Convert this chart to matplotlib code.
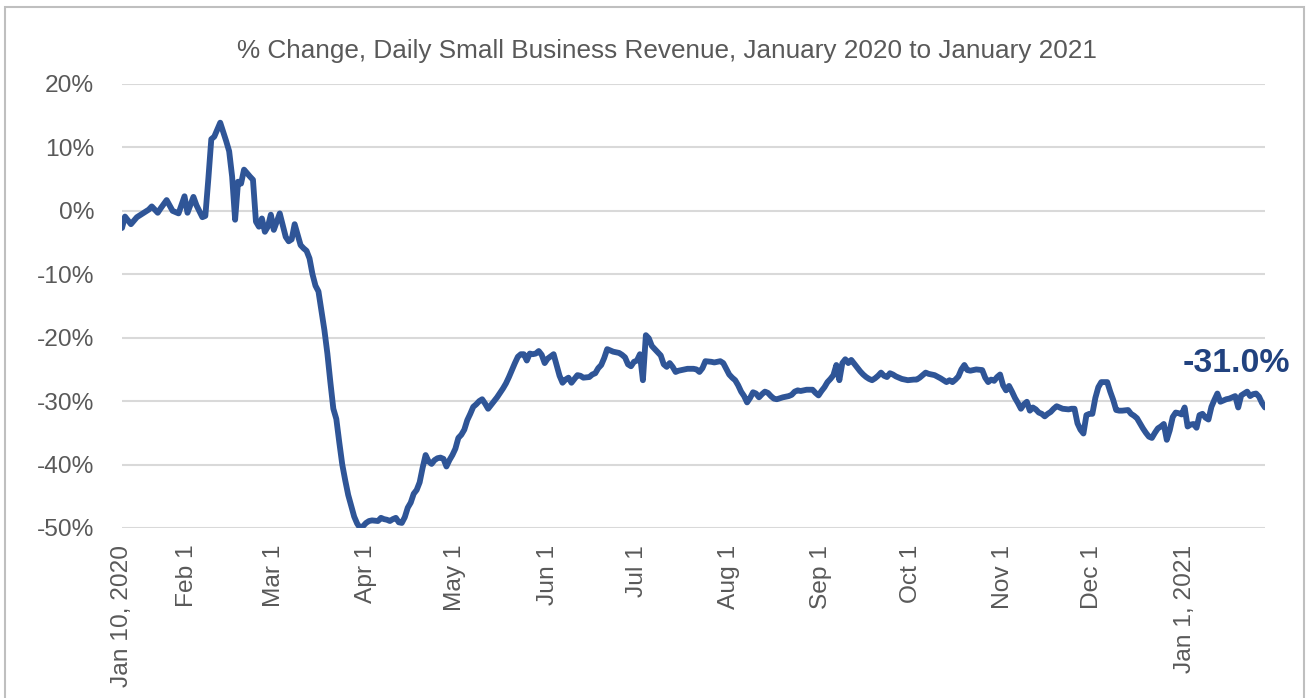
import pandas as pd
import matplotlib.pyplot as plt
from matplotlib import font_manager
from matplotlib.patches import Rectangle

# days since Jan 10, 2020 and % change
start_date = "2020-01-10"

day_offset = [
    0, 1, 3, 5, 7, 9, 10, 12, 13, 15, 17, 19, 21, 22, 24, 25, 27, 28, 29, 30,   # Jan / early Feb
    31, 33, 35, 36, 37, 38, 39, 40, 41, 43, 44, 45, 46, 47, 48, 49, 50,         # Feb
    51, 52, 53, 55, 56, 57, 58, 60, 61, 62, 63, 64, 65, 66, 68, 69, 70,         # Mar
    71, 72, 73, 74, 75, 76, 77, 78, 79, 80, 81,
    82, 83, 84, 86, 87, 88, 89, 90, 91, 92, 93, 94, 95, 96, 97, 98, 99,         # Apr
    100, 101, 102, 103, 104, 105, 106, 107, 108, 109, 110, 111,
    112, 113, 114, 115, 116, 117, 118, 119, 120, 121, 122, 123, 124, 125,       # May
    126, 127, 128, 129, 130, 131, 132, 133, 134, 135, 136, 137, 138, 139, 140, 141, 142,
    143, 145, 146, 147, 148, 149, 150, 151, 152, 153, 154, 155, 157, 158,       # Jun
    159, 160, 161, 162, 163, 164, 165, 167, 168, 169, 170, 171, 172,
    173, 174, 175, 176, 177, 178, 179, 180, 181, 182, 183, 184, 185, 186,       # Jul
    187, 188, 190, 192, 193, 194, 195, 196, 198, 199, 201, 202, 203,
    204, 205, 206, 207, 208, 209, 210, 211, 212, 213, 214, 215, 216, 217,       # Aug
    218, 219, 220, 222, 224, 225, 226, 227, 228, 229, 230, 232, 233,
    234, 235, 236, 237, 238, 239, 240, 241, 242, 243, 244, 245, 246, 247,       # Sep
    248, 249, 250, 251, 252, 253, 254, 255, 256, 257, 258, 259, 260, 262,
    264, 266, 267, 268, 269, 270, 271, 273, 275, 277, 278, 279, 280, 281,       # Oct
    282, 283, 284, 285, 287, 289, 290, 291, 292, 293, 294,
    295, 296, 297, 298, 299, 300, 301, 302, 303, 304, 305, 306, 307, 308,       # Nov
    309, 310, 311, 312, 313, 314, 315, 316, 318, 319, 320, 321, 322, 323, 324,
    325, 326, 327, 328, 329, 331, 332, 333, 334, 335, 336, 338, 339, 340,       # Dec
    341, 342, 343, 344, 345, 346, 347, 348, 349, 350, 351, 352, 353, 354, 355, 356,
    357, 358, 359, 360, 361, 362, 363, 364, 365, 366, 367, 368, 369, 370,       # Jan 2021
    371, 372, 373, 374, 375, 376, 377, 378, 379, 380, 381, 382, 383, 384,
]

pct_change = [
    -2.7, -0.9, -2.1, -1.0, -0.4, 0.2, 0.7, -0.3, 0.4, 1.7, 0.0, -0.4, 2.3, -0.3, 2.2, 0.9, -1.0, -0.8, 5.0, 11.3,
    11.7, 13.9, 11.0, 9.4, 5.4, -1.4, 4.6, 4.3, 6.5, 5.4, 4.9, -1.7, -2.5, -1.2, -3.3, -2.5, -0.6,
    -3.0, -1.7, -0.4, -4.1, -4.8, -4.5, -2.1, -5.4, -5.9, -6.3, -7.5, -10.0, -11.8, -12.7, -18.8, -22.5, -27.0,
    -31.2, -32.8, -36.5, -40.0, -42.5, -44.8, -46.5, -48.2, -49.3, -50.0, -49.7,
    -49.2, -48.9, -48.8, -48.9, -48.4, -48.6, -48.7, -48.9, -48.6, -48.4, -49.1, -49.2, -48.3, -46.8, -46.0, -44.6, -44.0,
    -42.8, -40.5, -38.5, -39.5, -39.9, -39.3, -39.0, -38.9, -39.1, -40.3, -39.3, -38.5,
    -37.5, -35.8, -35.3, -34.5, -33.0, -32.0, -30.9, -30.5, -30.0, -29.7, -30.4, -31.2, -30.6, -30.0,
    -29.4, -28.7, -28.0, -27.2, -26.2, -25.1, -24.0, -23.0, -22.6, -22.6, -23.6, -22.5, -22.6, -22.5, -22.1, -22.7, -24.0,
    -23.3, -22.6, -24.3, -26.0, -27.1, -26.6, -26.3, -27.1, -26.5, -25.9, -26.0, -26.3, -26.2, -25.8,
    -25.6, -24.8, -24.3, -23.2, -21.8, -22.0, -22.2, -22.4, -22.7, -23.1, -24.2, -24.5, -23.8,
    -23.6, -22.6, -26.7, -19.6, -20.1, -21.3, -21.8, -22.3, -22.8, -24.2, -24.6, -24.0, -24.6, -25.4,
    -25.2, -25.1, -24.9, -24.9, -25.0, -25.4, -24.8, -23.7, -23.8, -23.9, -23.7, -24.0, -24.9,
    -25.8, -26.3, -26.7, -27.5, -28.5, -29.2, -30.2, -29.5, -28.6, -28.8, -29.4, -28.9, -28.5, -28.7,
    -29.2, -29.6, -29.7, -29.4, -29.2, -29.0, -28.5, -28.3, -28.4, -28.3, -28.2, -28.2, -28.7,
    -29.1, -28.4, -27.8, -27.0, -26.5, -25.9, -24.3, -26.7, -24.0, -23.4, -24.0, -23.5, -24.1, -24.7,
    -25.3, -25.8, -26.2, -26.5, -26.7, -26.4, -26.0, -25.5, -26.0, -26.2, -25.6, -25.8, -26.1, -26.5,
    -26.7, -26.6, -26.6, -26.3, -25.9, -25.5, -25.7, -25.9, -26.4, -27.0, -26.7, -27.0, -26.6, -26.1,
    -25.0, -24.3, -25.1, -25.2, -25.0, -25.1, -26.3, -27.0, -26.6, -26.8, -26.2,
    -25.8, -27.5, -28.3, -27.6, -28.5, -29.5, -30.3, -31.2, -30.5, -30.1, -31.5, -31.0, -31.3, -31.8,
    -32.0, -32.4, -32.0, -31.7, -31.2, -30.8, -31.0, -31.2, -31.3, -31.2, -31.2, -33.5, -34.5, -35.1, -32.2,
    -32.0, -32.0, -29.5, -27.8, -27.0, -27.0, -28.5, -29.8, -31.4, -31.5, -31.5, -31.4, -32.0, -32.3,
    -32.7, -33.5, -34.3, -35.0, -35.6, -35.8, -35.0, -34.3, -34.0, -33.6, -36.1, -34.6, -32.5, -31.8, -31.9, -32.1,
    -31.0, -34.0, -33.7, -33.6, -34.2, -32.2, -32.0, -32.6, -32.9, -30.9, -29.8, -28.8, -30.1, -29.9,
    -29.7, -29.6, -29.4, -29.2, -31.0, -29.1, -28.8, -28.5, -29.2, -28.9, -28.8, -29.3, -30.3, -31.0,
]

tick_dates = ["2020-01-10", "2020-02-01", "2020-03-01", "2020-04-01", "2020-05-01",
              "2020-06-01", "2020-07-01", "2020-08-01", "2020-09-01", "2020-10-01",
              "2020-11-01", "2020-12-01", "2021-01-01"]
tick_labels = ["Jan 10, 2020", "Feb 1", "Mar 1", "Apr 1", "May 1", "Jun 1", "Jul 1",
               "Aug 1", "Sep 1", "Oct 1", "Nov 1", "Dec 1", "Jan 1, 2021"]
y_ticks = [20, 10, 0, -10, -20, -30, -40, -50]

title = "% Change, Daily Small Business Revenue, January 2020 to January 2021"

# narrow font if available, otherwise regular width a bit smaller
try:
    font_manager.findfont("Liberation Sans Narrow", fallback_to_default=False)
    family = ["Liberation Sans Narrow", "DejaVu Sans"]
    scale = 1.0
except ValueError:
    family = ["Liberation Sans", "DejaVu Sans"]
    scale = 0.84
plt.rcParams["font.family"] = family

dates = pd.Timestamp(start_date) + pd.to_timedelta(day_offset, unit="D")

W, H = 1310, 698
fig = plt.figure(figsize=(W / 100, H / 100), dpi=100)
ax = fig.add_axes([122 / W, (H - 528) / H, (1265 - 122) / W, (528 - 84) / H])

ax.plot(dates, pct_change, color="#2F5597", linewidth=4.2,
        solid_joinstyle="round", solid_capstyle="round", zorder=3)

ax.set_xlim(dates[0], dates[-1])
ax.set_ylim(-50, 20)
ax.set_yticks(y_ticks)
ax.set_yticklabels([f"{v}%" for v in y_ticks])
ax.set_xticks(pd.to_datetime(tick_dates))
ax.set_xticklabels(tick_labels, rotation=90, va="top", ha="center")

ax.yaxis.grid(True, color="#D9D9D9", linewidth=1.5)
ax.set_axisbelow(True)
for s in ax.spines.values():
    s.set_visible(False)
ax.tick_params(axis="both", length=0, colors="#595959", labelsize=21 * scale)
ax.tick_params(axis="y", pad=20)
ax.tick_params(axis="x", pad=12)

fig.text(0.509, 1 - 51 / H, title, ha="center", va="center",
         fontsize=22.4 * scale, color="#595959")

ax.annotate(f"{pct_change[-1]:.1f}%", xy=(dates[-1], pct_change[-1]),
            xytext=(18, 32), textcoords="offset points", ha="right", va="center",
            fontsize=29 * scale, fontweight="bold", color="#21427F", annotation_clip=False)

# chart frame
fig.patches.append(Rectangle((5 / W, -0.05), (1304 - 5) / W, 1.05 - 7 / H,
                             transform=fig.transFigure, fill=False,
                             edgecolor="#BFBFBF", linewidth=1.5))

fig.savefig("out.png", dpi=100)
